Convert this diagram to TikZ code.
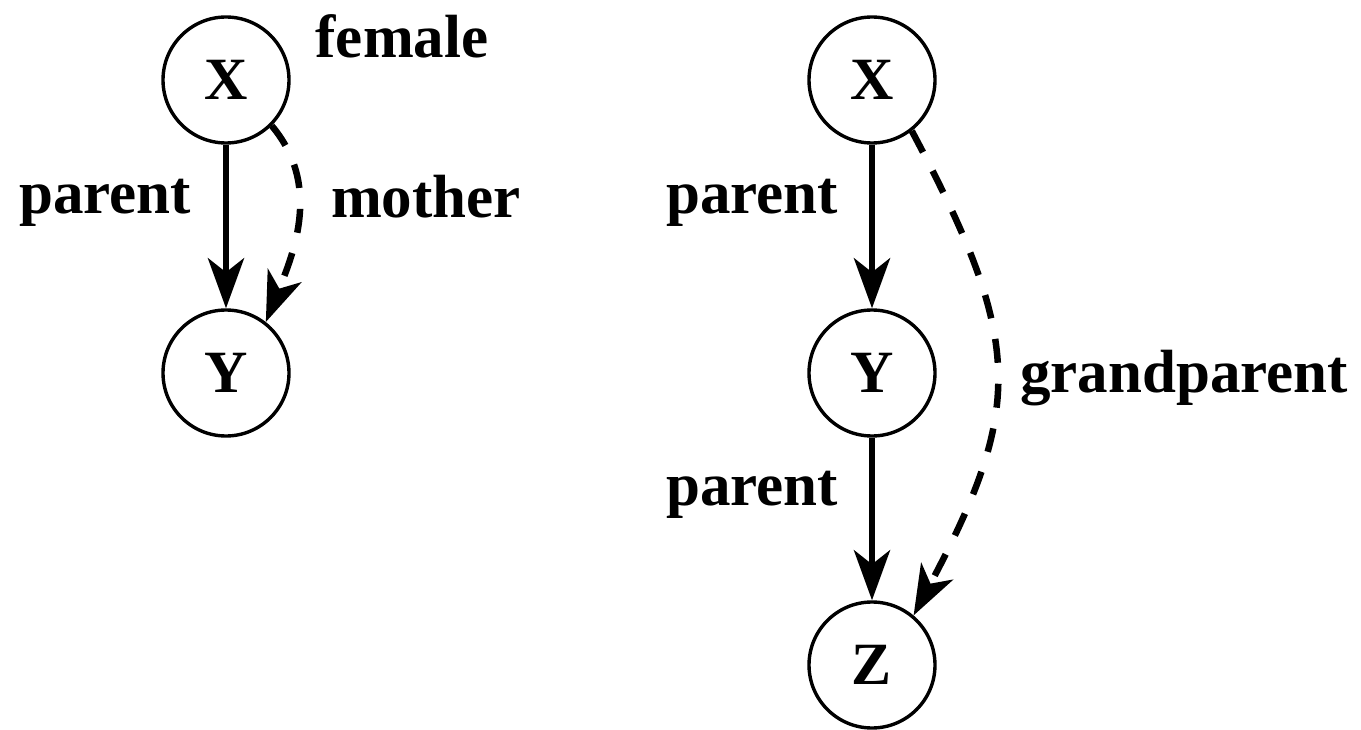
\documentclass[tikz,border=0pt]{standalone}
\usepackage{fontspec}
\setmainfont{Liberation Serif}
\usetikzlibrary{arrows.meta}
\begin{document}
\begin{tikzpicture}[x=1pt,y=-1pt,
  var/.style={circle,draw,line width=3.4pt,minimum size=126pt,inner sep=0pt,font=\fontsize{60}{60}\selectfont\bfseries},
  lbl/.style={font=\fontsize{61}{61}\selectfont\bfseries,inner sep=0pt},
  edge/.style={line width=6.5pt,-{Stealth[length=50pt,width=36pt,inset=14pt]}},
  dedge/.style={edge,dash pattern=on 24pt off 21pt}]
\useasboundingbox (0,0) rectangle (1361,730);
% left
\node[var] (X1) at (226,80) {X};
\node[var] (Y1) at (226,373) {Y};
\draw[edge] (X1) -- (Y1);
\draw[dedge] (X1.-45) to[out=-50,in=68] (Y1.52);
\node[lbl] (female) at (402,36) {female};
\node[lbl] (p1) at (105,203) {parent};
\node[lbl] (mother) at (426,197) {mother};
% right
\node[var] (X2) at (872,80) {X};
\node[var] (Y2) at (872,373) {Y};
\node[var] (Z2) at (872,665) {Z};
\draw[edge] (X2) -- (Y2);
\draw[edge] (Y2) -- (Z2);
\draw[dedge] (X2.-52) to[out=-62,in=62,looseness=1.25] (Z2.50);
\node[lbl] (p2) at (752,203) {parent};
\node[lbl] (p3) at (752,495) {parent};
\node[lbl] (gp) at (1184,378) {grandparent};
\end{tikzpicture}
\end{document}
